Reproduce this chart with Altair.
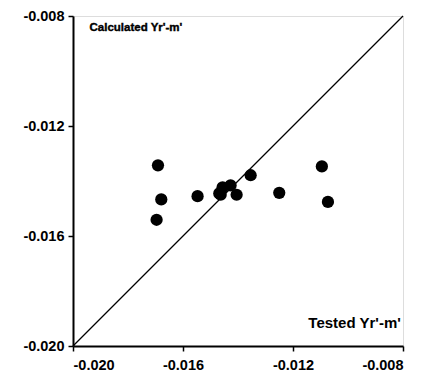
import altair as alt
import pandas as pd

tested = [-0.01691, -0.01679, -0.01696, -0.01547, -0.01463, -0.01456, -0.01427,
          -0.01405, -0.01354, -0.01250, -0.01095, -0.01073, -0.01468]
calculated = [-0.01343, -0.01467, -0.01541, -0.01455, -0.01450, -0.01423, -0.01416,
              -0.01450, -0.01379, -0.01443, -0.01347, -0.01476, -0.01445]

diag_x = [-0.020, -0.008]
diag_y = [-0.020, -0.008]

tick_vals = [-0.020, -0.016, -0.012, -0.008]

pts = pd.DataFrame({"x": tested, "y": calculated})
diag = pd.DataFrame({"x": diag_x, "y": diag_y})
lab1 = pd.DataFrame({"x": [-0.0194], "y": [-0.00842], "t": ["Calculated Yr'-m'"]})
lab2 = pd.DataFrame({"x": [-0.00808], "y": [-0.01915], "t": ["Tested Yr'-m'"]})

font = "Liberation Sans"
xs = alt.Scale(domain=[-0.020, -0.008], nice=False, zero=False)
ys = alt.Scale(domain=[-0.020, -0.008], nice=False, zero=False)

lexpr = "'-' + format(abs(datum.value), '.3f')"
common = dict(values=tick_vals, labelExpr=lexpr, title=None, grid=False,
              labelFont=font, labelFontSize=14.5, labelFontWeight="bold",
              labelColor="black", domainColor="black", tickColor="black",
              domainWidth=2, tickWidth=1.5, tickSize=5)
xax = alt.Axis(labelPadding=7, **common)
yax = alt.Axis(labelPadding=4, **common)

line = alt.Chart(diag).mark_line(color="black", strokeWidth=1.3).encode(
    x=alt.X("x:Q", scale=xs, axis=xax),
    y=alt.Y("y:Q", scale=ys, axis=yax),
)

points = alt.Chart(pts).mark_circle(color="black", size=150, opacity=1).encode(
    x=alt.X("x:Q", scale=xs),
    y=alt.Y("y:Q", scale=ys),
)

left_text = alt.Chart(lab1).mark_text(
    align="left", baseline="middle", font=font, fontSize=11.5,
    fontWeight="bold", color="black", stroke="black", strokeWidth=0.4
).encode(x=alt.X("x:Q", scale=xs), y=alt.Y("y:Q", scale=ys), text="t:N")

right_text = alt.Chart(lab2).mark_text(
    align="right", baseline="middle", font=font, fontSize=15,
    fontWeight="bold", color="black"
).encode(x=alt.X("x:Q", scale=xs), y=alt.Y("y:Q", scale=ys), text="t:N")

chart = alt.layer(line, points, left_text, right_text).properties(
    width=330, height=330,
    autosize=alt.AutoSizeParams(type="none"),
    padding={"left": 65, "top": 8, "right": 20, "bottom": 26},
).configure_view(stroke="black", strokeWidth=2).configure(background="white")

chart.save("out.html", embed_options={"renderer": "svg", "actions": False})
